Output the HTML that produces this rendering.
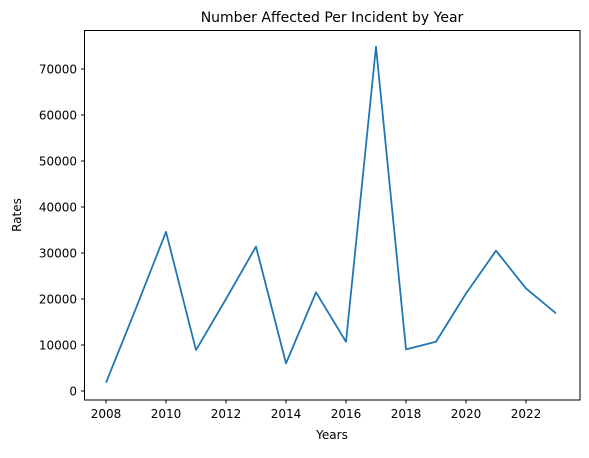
<!DOCTYPE html>
<html><head><meta charset="utf-8"><style>
body{margin:0;background:#fff;}
svg text{font-family:"DejaVu Sans","Liberation Sans",sans-serif;fill:#000;}
</style></head><body>
<svg id="chart" width="589" height="453" xmlns="http://www.w3.org/2000/svg">
<text x="332" y="22" font-size="14" text-anchor="middle">Number Affected Per Incident by Year</text>
<text x="332" y="439" font-size="12" text-anchor="middle">Years</text>
<text transform="translate(21,215) rotate(-90)" font-size="12" text-anchor="middle">Rates</text>
<g id="xt"></g><g id="yt"></g>
<path id="line" fill="none" stroke="#1f77b4" stroke-width="1.8" stroke-linejoin="round"/>
<rect x="84.5" y="30.5" width="495.5" height="369.5" fill="none" stroke="#000" stroke-width="1"/>
</svg>
<script>
const years=[2008,2009,2010,2011,2012,2013,2014,2015,2016,2017,2018,2019,2020,2021,2022,2023];
const rates=[1800,18000,34600,8900,20000,31400,6000,21450,10700,74850,9050,10700,21200,30500,22300,16900];
const xTicks=[2008,2010,2012,2014,2016,2018,2020,2022];
const yTicks=[0,10000,20000,30000,40000,50000,60000,70000];
const NS="http://www.w3.org/2000/svg";
const xs=v=>106+(v-2008)*30;
const ys=v=>391-v*46/10000;
const xt=document.getElementById('xt'),yt=document.getElementById('yt');
xTicks.forEach(t=>{
 const l=document.createElementNS(NS,'line');
 l.setAttribute('x1',xs(t));l.setAttribute('x2',xs(t));l.setAttribute('y1',400);l.setAttribute('y2',403.5);l.setAttribute('stroke','#000');
 
 
 xt.appendChild(l);
 const tx=document.createElementNS(NS,'text');
 tx.setAttribute('x',xs(t));tx.setAttribute('y',418);tx.setAttribute('font-size','12');tx.setAttribute('text-anchor','middle');tx.textContent=t;
 
 
 xt.appendChild(tx);
});
yTicks.forEach(t=>{
 const l=document.createElementNS(NS,'line');
 l.setAttribute('x1',81);l.setAttribute('x2',84.5);l.setAttribute('y1',ys(t));l.setAttribute('y2',ys(t));l.setAttribute('stroke','#000');
 
 
 yt.appendChild(l);
 const tx=document.createElementNS(NS,'text');
 tx.setAttribute('x',77);tx.setAttribute('y',ys(t)+4.5);tx.setAttribute('font-size','12');tx.setAttribute('text-anchor','end');tx.textContent=t;
 
 
 yt.appendChild(tx);
});
document.getElementById('line').setAttribute('d',years.map((y,i)=>(i?'L':'M')+xs(y)+','+ys(rates[i])).join(' '));
</script>
</body></html>
